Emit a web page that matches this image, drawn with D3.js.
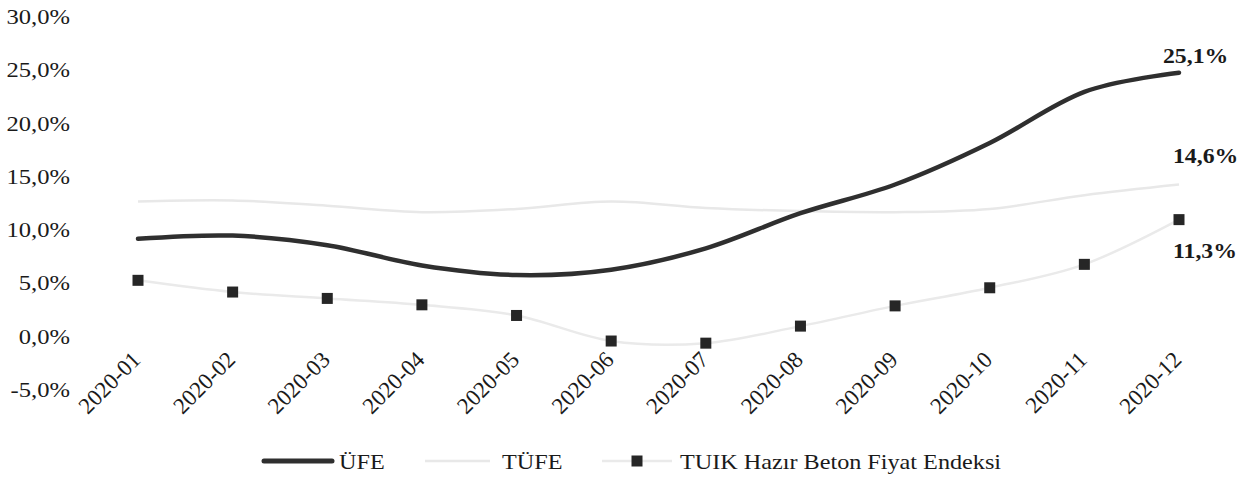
<!DOCTYPE html>
<html>
<head>
<meta charset="utf-8">
<script src="https://cdn.jsdelivr.net/npm/d3@7/dist/d3.min.js"></script>
<style>
  body { margin: 0; background: #fff; }
</style>
</head>
<body>
<div id="chart"></div>
<script>
// months on the x axis
const months = ["2020-01", "2020-02", "2020-03", "2020-04", "2020-05", "2020-06",
                "2020-07", "2020-08", "2020-09", "2020-10", "2020-11", "2020-12"];
// yearly change, percent
const ufe   = [9.5, 9.8, 8.9, 7.0, 6.1, 6.6, 8.6, 11.9, 14.6, 18.5, 23.3, 25.1];
const tufe  = [13.0, 13.1, 12.6, 12.0, 12.3, 13.0, 12.4, 12.1, 12.0, 12.3, 13.6, 14.6];
const beton = [5.6, 4.5, 3.9, 3.3, 2.3, -0.1, -0.3, 1.3, 3.2, 4.9, 7.1, 11.3];
const yTicks = [-5, 0, 5, 10, 15, 20, 25, 30];
const seriesNames = ["ÜFE", "TÜFE", "TUIK Hazır Beton Fiyat Endeksi"];

const width = 1252, height = 480;
const serif = "'Liberation Serif', 'DejaVu Serif', serif";
const fmt = v => v.toFixed(1).replace(".", ",") + "%";

const svg = d3.select("#chart").append("svg")
  .attr("width", width)
  .attr("height", height)
  .attr("font-family", serif)
  .attr("fill", "#1a1a1a");

const x = d3.scalePoint().domain(months).range([138, 1179]);
const y = d3.scaleLinear().domain([-5, 30]).range([393.2, 20.5]);

// y labels (no axis line or grid in the original); the scan is a bit stretched sideways
svg.append("g")
  .selectAll("text")
  .data(yTicks)
  .enter()
  .append("text")
  .attr("transform", d => "translate(70," + (y(d) - 4) + ") scale(1.12,1)")
  .attr("dy", "0.35em")
  .attr("text-anchor", "end")
  .attr("font-size", 22)
  .text(d => fmt(d));

// x labels, rotated
svg.append("g")
  .selectAll("text")
  .data(months)
  .enter()
  .append("text")
  .attr("transform", d => "translate(" + (x(d) + 4) + ",361) rotate(-45)")
  .attr("text-anchor", "end")
  .attr("font-size", 23)
  .text(d => d);

const line = d3.line()
  .x((d, i) => x(months[i]))
  .y(d => y(d))
  .curve(d3.curveCardinal.tension(0));

// faint lines first
svg.append("path")
  .attr("d", line(tufe))
  .attr("fill", "none")
  .attr("stroke", "#e8e8e8")
  .attr("stroke-width", 2.5);

svg.append("path")
  .attr("d", line(beton))
  .attr("fill", "none")
  .attr("stroke", "#eaeaea")
  .attr("stroke-width", 2.5);

svg.append("path")
  .attr("d", line(ufe))
  .attr("fill", "none")
  .attr("stroke", "#2f2f2f")
  .attr("stroke-width", 4.5)
  .attr("stroke-linecap", "round");

const sq = 11;
svg.append("g")
  .selectAll("rect")
  .data(beton)
  .enter()
  .append("rect")
  .attr("x", (d, i) => x(months[i]) - sq / 2)
  .attr("y", d => y(d) - sq / 2)
  .attr("width", sq)
  .attr("height", sq)
  .attr("fill", "#262626");

// end labels
const last = months.length - 1;
const endLabels = [
  { v: ufe[last], dx: -16, dy: -17 },
  { v: tufe[last], dx: -6, dy: -29 },
  { v: beton[last], dx: -6, dy: 31 }
];
svg.append("g")
  .selectAll("text")
  .data(endLabels)
  .enter()
  .append("text")
  .attr("transform", d => "translate(" + (x(months[last]) + d.dx) + "," + (y(d.v) + d.dy) + ") scale(1.08,1)")
  .attr("dy", "0.35em")
  .attr("font-size", 22)
  .attr("font-weight", "bold")
  .text(d => fmt(d.v));

// legend
const ly = 461;
const legend = svg.append("g");
const legendText = (lx, s) => legend.append("text")
  .attr("transform", "translate(" + lx + "," + ly + ") scale(1.1,1)")
  .attr("dy", "0.35em")
  .attr("font-size", 22)
  .text(s);

legend.append("line")
  .attr("x1", 264).attr("x2", 332).attr("y1", ly).attr("y2", ly)
  .attr("stroke", "#2f2f2f").attr("stroke-width", 5).attr("stroke-linecap", "round");
legendText(339, seriesNames[0]);

legend.append("line")
  .attr("x1", 425).attr("x2", 490).attr("y1", ly).attr("y2", ly)
  .attr("stroke", "#e8e8e8").attr("stroke-width", 2.5);
legendText(502, seriesNames[1]);

legend.append("line")
  .attr("x1", 602).attr("x2", 672).attr("y1", ly).attr("y2", ly)
  .attr("stroke", "#eaeaea").attr("stroke-width", 2.5);
legend.append("rect")
  .attr("x", 637 - sq / 2).attr("y", ly - sq / 2).attr("width", sq).attr("height", sq)
  .attr("fill", "#262626");
legendText(680, seriesNames[2]);
</script>
</body>
</html>
